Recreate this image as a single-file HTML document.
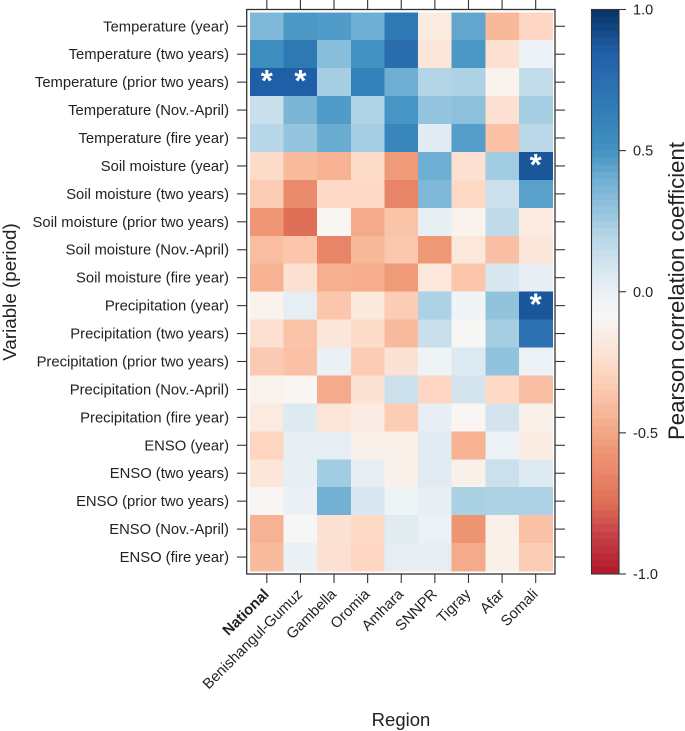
<!DOCTYPE html>
<html lang="en">
<head>
<meta charset="utf-8">
<title>Pearson correlation heatmap</title>
<style>
html,body{margin:0;padding:0;background:#fff;width:685px;height:731px;overflow:hidden}
svg{display:block;font-family:"Liberation Sans",Arial,sans-serif}
</style>
</head>
<body>
<svg id="chart" xmlns="http://www.w3.org/2000/svg" width="685" height="731" viewBox="0 0 685 731">
  <g id="cells" shape-rendering="crispEdges"></g>
  <g id="stars"></g>
  <rect x="246.7" y="9.5" width="308.3" height="564.5" fill="none" stroke="#333" stroke-width="1.3"></rect>
  <g id="xticks"></g>
  <g id="yticks"></g>
  <g id="bands" shape-rendering="crispEdges"></g>
  <rect x="591.5" y="9.5" width="27.5" height="564.5" fill="none" stroke="#333" stroke-width="1.1"></rect>
  <g id="cticks"></g>
  <text transform="translate(16 292) rotate(-90)" text-anchor="middle" font-size="18.8" fill="#222">Variable (period)</text>
  <text x="401" y="726" text-anchor="middle" font-size="18.5" fill="#222">Region</text>
  <text transform="translate(684 291) rotate(-90)" text-anchor="middle" font-size="22.2" fill="#222">Pearson correlation coefficient</text>
</svg>
<script>
const regions = ["National","Benishangul-Gumuz","Gambella","Oromia","Amhara","SNNPR","Tigray","Afar","Somali"];
const variables = ["Temperature (year)","Temperature (two years)","Temperature (prior two years)","Temperature (Nov.-April)","Temperature (fire year)","Soil moisture (year)","Soil moisture (two years)","Soil moisture (prior two years)","Soil moisture (Nov.-April)","Soil moisture (fire year)","Precipitation (year)","Precipitation (two years)","Precipitation (prior two years)","Precipitation (Nov.-April)","Precipitation (fire year)","ENSO (year)","ENSO (two years)","ENSO (prior two years)","ENSO (Nov.-April)","ENSO (fire year)"];
const correlations = [
[0.35,0.48,0.47,0.40,0.68,-0.17,0.43,-0.42,-0.28],
[0.53,0.68,0.32,0.50,0.75,-0.20,0.48,-0.23,-0.02],
[0.85,0.85,0.24,0.62,0.40,0.20,0.22,-0.12,0.15],
[0.13,0.36,0.47,0.21,0.49,0.28,0.31,-0.23,0.24],
[0.19,0.28,0.41,0.24,0.58,0.04,0.46,-0.38,0.18],
[-0.26,-0.41,-0.45,-0.26,-0.55,0.40,-0.23,0.25,0.88],
[-0.33,-0.62,-0.27,-0.27,-0.65,0.35,-0.27,0.12,0.45],
[-0.57,-0.75,-0.10,-0.48,-0.37,0.00,-0.12,0.16,-0.17],
[-0.40,-0.36,-0.65,-0.42,-0.35,-0.56,-0.19,-0.39,-0.20],
[-0.45,-0.23,-0.46,-0.47,-0.55,-0.19,-0.36,0.07,0.00],
[-0.12,0.01,-0.36,-0.18,-0.33,0.22,-0.04,0.29,0.88],
[-0.23,-0.37,-0.20,-0.26,-0.41,0.13,-0.08,0.24,0.72],
[-0.34,-0.38,-0.01,-0.33,-0.22,-0.03,0.05,0.29,-0.02],
[-0.12,-0.10,-0.48,-0.22,0.12,-0.28,0.09,-0.27,-0.39],
[-0.17,0.05,-0.21,-0.16,-0.33,0.00,-0.10,0.09,-0.13],
[-0.29,0.00,0.01,-0.13,-0.13,0.04,-0.45,-0.02,-0.16],
[-0.20,0.00,0.25,0.01,-0.13,0.04,-0.13,0.12,0.05],
[-0.10,-0.01,0.39,0.07,-0.03,0.00,0.23,0.22,0.22],
[-0.45,-0.08,-0.22,-0.27,0.04,-0.02,-0.58,-0.13,-0.38],
[-0.41,-0.01,-0.23,-0.28,0.01,0.01,-0.48,-0.13,-0.33]
];
const significant = [[2,0],[2,1],[5,8],[10,8]];
const colorbarTicks = [1,0.5,0,-0.5,-1];
const colorbarLabels = ["1.0","0.5","0.0","-0.5","-1.0"];
const bandCount = 80;
const paletteValues = [1,0.85,0.75,0.68,0.5,0.4,0.28,0.22,0.12,0.05,0,-0.05,-0.09,-0.13,-0.2,-0.27,-0.35,-0.45,-0.55,-0.65,-0.75,-0.85,-1];
const paletteColors = ["#063264","#1f5fa8","#2a6eb0","#2e78b4","#4292c2","#6fafd3","#95c5de","#aed2e5","#cce0ec","#deeaf1","#e8eff4","#f2f5f6","#f7f7f5","#f9f0ea","#fce6d9","#fdd9c6","#fbc8af","#f6b293","#ef9a78","#e88568","#df6f56","#c9444a","#b2182b"];

const SVGNS = "http://www.w3.org/2000/svg";
const plotLeft = 250, plotTop = 12.3, plotRight = 552.5, plotBottom = 571;
const cellW = (plotRight - plotLeft) / regions.length;
const cellH = (plotBottom - plotTop) / variables.length;
const xPos = i => plotLeft + cellW * i;
const yPos = r => plotTop + cellH * r;
const cbY = v => 291.75 - v * 282.25;

function hexRgb(h){return [1,3,5].map(k=>parseInt(h.substr(k,2),16));}
function colorFor(v){
  if (v >= paletteValues[0]) return paletteColors[0];
  const last = paletteValues.length - 1;
  if (v <= paletteValues[last]) return paletteColors[last];
  for (let k = 0; k < last; k++){
    const hi = paletteValues[k], lo = paletteValues[k+1];
    if (v <= hi && v >= lo){
      const t = (hi - v) / (hi - lo);
      const a = hexRgb(paletteColors[k]), b = hexRgb(paletteColors[k+1]);
      return "rgb(" + a.map((c,n)=>Math.round(c + (b[n]-c)*t)).join(",") + ")";
    }
  }
  return "#fff";
}
function make(tag, parent, attrs){
  const el = document.createElementNS(SVGNS, tag);
  for (const k in attrs) el.setAttribute(k, attrs[k]);
  parent.appendChild(el);
  return el;
}
const cellsG = document.getElementById("cells");
const starsG = document.getElementById("stars");
const xG = document.getElementById("xticks");
const yG = document.getElementById("yticks");
const bandsG = document.getElementById("bands");
const cG = document.getElementById("cticks");

correlations.forEach((row, r) => {
  row.forEach((v, c) => {
    const el = make("rect", cellsG, {x: xPos(c), y: yPos(r), width: cellW + 0.4, height: cellH + 0.4, fill: colorFor(v)});
    
    
  });
});

significant.forEach(([r, c]) => {
  const el = make("text", starsG, {x: xPos(c) + cellW / 2, y: yPos(r) + cellH / 2 + 9, "text-anchor": "middle", "font-size": 31, "font-weight": "bold", fill: "#fff"});
  el.textContent = "*";
  
  
});

regions.forEach((name, i) => {
  const x = xPos(i) + cellW / 2;
  const bottomTick = make("line", xG, {x1: x, x2: x, y1: 574, y2: 583, stroke: "#333", "stroke-width": 1.1});
  
  
  const topTick = make("line", xG, {x1: x, x2: x, y1: 0, y2: 9.5, stroke: "#333", "stroke-width": 1.1});
  
  
  const lx = x + 3, ly = 595;
  const label = make("text", xG, {x: lx, y: ly, "text-anchor": "end", "font-size": 14.8, fill: "#222", transform: "rotate(-45 " + lx + " " + ly + ")"});
  if (i === 0) label.setAttribute("font-weight", "bold");
  label.textContent = name;
  
  
});

variables.forEach((name, r) => {
  const y = yPos(r) + cellH / 2;
  const leftTick = make("line", yG, {x1: 237, x2: 246.7, y1: y, y2: y, stroke: "#333", "stroke-width": 1.1});
  
  
  const rightTick = make("line", yG, {x1: 555, x2: 565, y1: y, y2: y, stroke: "#333", "stroke-width": 1.1});
  
  
  const label = make("text", yG, {x: 229, y: y + 5, "text-anchor": "end", "font-size": 14.8, fill: "#222"});
  label.textContent = name;
  
  
});

for (let b = 0; b < bandCount; b++){
  const hi = 1 - 2 * b / bandCount, lo = 1 - 2 * (b + 1) / bandCount;
  const el = make("rect", bandsG, {x: 591.5, y: cbY(hi), width: 27.5, height: cbY(lo) - cbY(hi) + 0.4, fill: colorFor((hi + lo) / 2)});
  
  
}

colorbarTicks.forEach((v, i) => {
  const y = cbY(v);
  const tick = make("line", cG, {x1: 619, x2: 626, y1: y, y2: y, stroke: "#333", "stroke-width": 1.1});
  
  
  const label = make("text", cG, {x: 633, y: y + 5, "font-size": 14.5, fill: "#222"});
  label.textContent = colorbarLabels[i];
  
  
});
</script>
</body>
</html>
